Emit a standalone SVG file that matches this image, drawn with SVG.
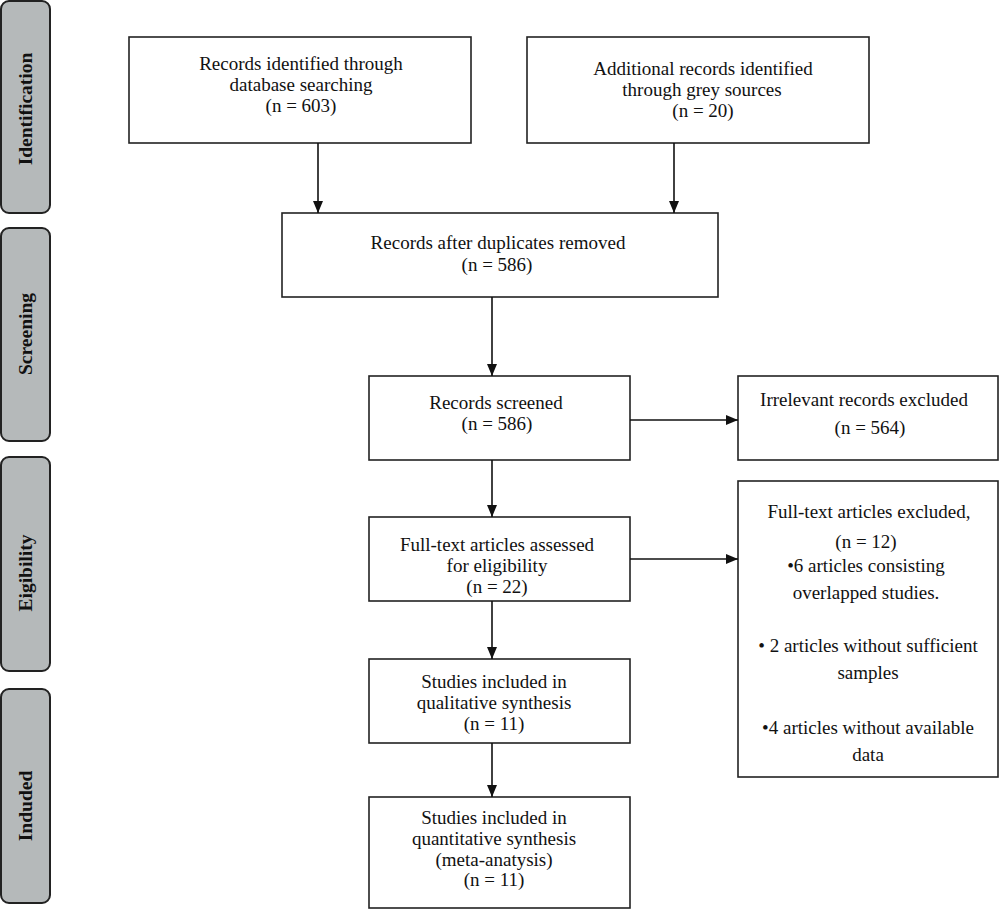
<svg xmlns="http://www.w3.org/2000/svg" width="1000" height="910" viewBox="0 0 1000 910">
<style>
.box{fill:#fff;stroke:#222;stroke-width:1.6}
.side{fill:#b5b9ba;stroke:#222;stroke-width:2}
.t{font-family:"Liberation Serif","DejaVu Serif",serif;font-size:19px;fill:#111;text-anchor:middle}
.s{font-family:"Liberation Serif","DejaVu Serif",serif;font-size:19.5px;font-weight:bold;fill:#111;text-anchor:middle}
.c{stroke:#111;stroke-width:1.6;fill:none}
</style>
<defs>
<marker id="ah" viewBox="0 0 12 10" refX="12" refY="5" markerWidth="12" markerHeight="10" markerUnits="userSpaceOnUse" orient="auto">
<path d="M0,0 L12,5 L0,10 Z" fill="#111"/>
</marker>
</defs>
<rect width="1000" height="910" fill="#fff"/>
<g id="side-identification"><rect class="side" x="1" y="1" width="49" height="212" rx="8"/><text class="s" transform="translate(32,109) rotate(-90)">Identification</text></g>
<g id="side-screening"><rect class="side" x="1" y="228" width="49" height="213" rx="8"/><text class="s" transform="translate(32,334) rotate(-90)">Screening</text></g>
<g id="side-eligibility"><rect class="side" x="1" y="457" width="49" height="214" rx="8"/><text class="s" transform="translate(32,573) rotate(-90)">Eigibility</text></g>
<g id="side-included"><rect class="side" x="1" y="689" width="49" height="214" rx="8"/><text class="s" transform="translate(32,806) rotate(-90)">Induded</text></g>

<g id="n-db"><rect class="box" x="129" y="37" width="342" height="106"/>
<text class="t" x="301" y="70">Records identified through</text>
<text class="t" x="301" y="91">database searching</text>
<text class="t" x="301" y="112">(n = 603)</text></g>
<g id="n-grey"><rect class="box" x="527" y="37" width="342" height="106"/>
<text class="t" x="703" y="75">Additional records identified</text>
<text class="t" x="702" y="96">through grey sources</text>
<text class="t" x="703" y="117">(n = 20)</text></g>
<g id="n-dup"><rect class="box" x="282" y="213" width="436" height="84"/>
<text class="t" x="498" y="249">Records after duplicates removed</text>
<text class="t" x="497" y="271">(n = 586)</text></g>
<g id="n-screened"><rect class="box" x="369" y="376" width="261" height="84"/>
<text class="t" x="496" y="409">Records screened</text>
<text class="t" x="497" y="430">(n = 586)</text></g>
<g id="n-irrelevant"><rect class="box" x="738" y="376" width="260" height="84"/>
<text class="t" x="864" y="406">Irrelevant records excluded</text>
<text class="t" x="870" y="434">(n = 564)</text></g>
<g id="n-fulltext"><rect class="box" x="369" y="517" width="261" height="84"/>
<text class="t" x="497" y="551">Full-text articles assessed</text>
<text class="t" x="497" y="572">for eligibility</text>
<text class="t" x="497" y="593">(n = 22)</text></g>
<g id="n-excluded"><rect class="box" x="738" y="481" width="260" height="296"/>
<text class="t" x="869" y="518">Full-text articles excluded,</text>
<text class="t" x="866" y="548">(n = 12)</text>
<text class="t" x="866" y="572">•6 articles consisting</text>
<text class="t" x="866" y="599">overlapped studies.</text>
<text class="t" x="868" y="652">• 2 articles without sufficient</text>
<text class="t" x="868" y="679">samples</text>
<text class="t" x="868" y="734">•4 articles without available</text>
<text class="t" x="868" y="761">data</text></g>
<g id="n-qual"><rect class="box" x="369" y="659" width="261" height="84"/>
<text class="t" x="494" y="688">Studies included in</text>
<text class="t" x="494" y="709">qualitative synthesis</text>
<text class="t" x="494" y="730">(n = 11)</text></g>
<g id="n-quant"><rect class="box" x="369" y="797" width="261" height="111"/>
<text class="t" x="494" y="824">Studies included in</text>
<text class="t" x="494" y="845">quantitative synthesis</text>
<text class="t" x="494" y="866">(meta-anatysis)</text>
<text class="t" x="494" y="886">(n = 11)</text></g>

<g id="connectors">
<line class="c" x1="318" y1="143" x2="318" y2="213" marker-end="url(#ah)"/>
<line class="c" x1="674" y1="143" x2="674" y2="213" marker-end="url(#ah)"/>
<line class="c" x1="492" y1="297" x2="492" y2="376" marker-end="url(#ah)"/>
<line class="c" x1="630" y1="420" x2="738" y2="420" marker-end="url(#ah)"/>
<line class="c" x1="492" y1="460" x2="492" y2="517" marker-end="url(#ah)"/>
<line class="c" x1="630" y1="559" x2="738" y2="559" marker-end="url(#ah)"/>
<line class="c" x1="492" y1="601" x2="492" y2="659" marker-end="url(#ah)"/>
<line class="c" x1="492" y1="743" x2="492" y2="797" marker-end="url(#ah)"/>
</g>
</svg>
